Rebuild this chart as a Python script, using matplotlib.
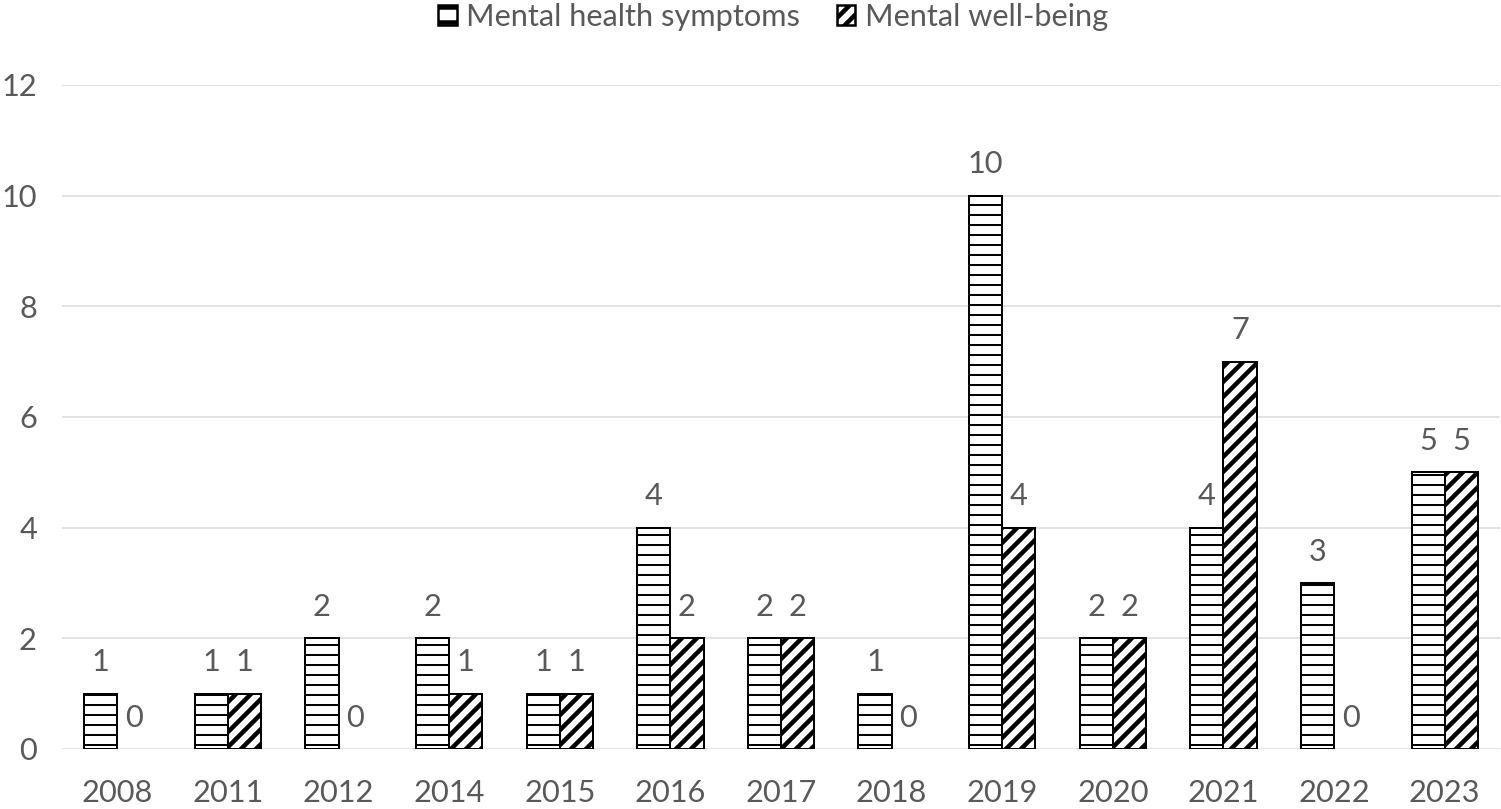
import numpy as np
import matplotlib
matplotlib.use('Agg')
import matplotlib.pyplot as plt
from matplotlib.patches import Patch

years = ['2008', '2011', '2012', '2014', '2015', '2016', '2017',
         '2018', '2019', '2020', '2021', '2022', '2023']
symptoms = [1, 1, 2, 2, 1, 4, 2, 1, 10, 2, 4, 3, 5]
wellbeing = [0, 1, 0, 1, 1, 2, 2, 0, 4, 2, 7, 0, 5]
yticks = [0, 2, 4, 6, 8, 10, 12]

DPI = 180
GRAY = '#595959'
plt.rcParams['font.family'] = ['Lato', 'DejaVu Sans']
FS = 12.3

fig = plt.figure(figsize=(1501 / DPI, 809 / DPI), dpi=DPI)
ax = fig.add_axes([62 / 1501, 60 / 809, 1438 / 1501, 664 / 809])

x = np.arange(len(years))
w = 0.3

def edge_w(vals):
    return [0.8 if v > 0 else 0 for v in vals]

# horizontal hatch, thin lines
plt.rcParams['hatch.linewidth'] = 0.8
ax.bar(x - w / 2, symptoms, w, color='white', edgecolor='black',
       linewidth=edge_w(symptoms), hatch='---', zorder=3)
h1 = Patch(facecolor='white', edgecolor='black', linewidth=1.0, hatch='--')

# diagonal hatch, thick lines
plt.rcParams['hatch.linewidth'] = 1.8
ax.bar(x + w / 2, wellbeing, w, color='white', edgecolor='black',
       linewidth=edge_w(wellbeing), hatch='////', zorder=3)
h2 = Patch(facecolor='white', edgecolor='black', linewidth=1.0, hatch='////')

for xs, vals in ((x - w / 2, symptoms), (x + w / 2, wellbeing)):
    for xi, v in zip(xs, vals):
        ax.annotate(str(v), (xi, v), xytext=(0, 12.5), textcoords='offset points',
                    ha='center', va='center', fontsize=FS, color=GRAY)

ax.set_xlim(-0.5, len(years) - 0.5)
ax.set_ylim(0, 12)
ax.set_xticks(x)
ax.set_xticklabels(years)
ax.set_yticks(yticks)
ax.tick_params(axis='both', length=0, labelsize=FS, labelcolor=GRAY)
ax.tick_params(axis='x', pad=12)
ax.tick_params(axis='y', pad=10)
ax.grid(axis='y', color='#d9d9d9', linewidth=0.6)
ax.set_axisbelow(True)
for s in ax.spines.values():
    s.set_visible(False)

fig.legend(handles=[h1, h2], labels=['Mental health symptoms', 'Mental well-being'],
           loc='center', bbox_to_anchor=(0.515, 1 - 17 / 809),
           ncol=2, frameon=False, fontsize=FS, labelcolor=GRAY,
           handlelength=0.6, handleheight=0.6, handletextpad=0.3,
           columnspacing=1.2)

fig.savefig('out.png', dpi=DPI)
